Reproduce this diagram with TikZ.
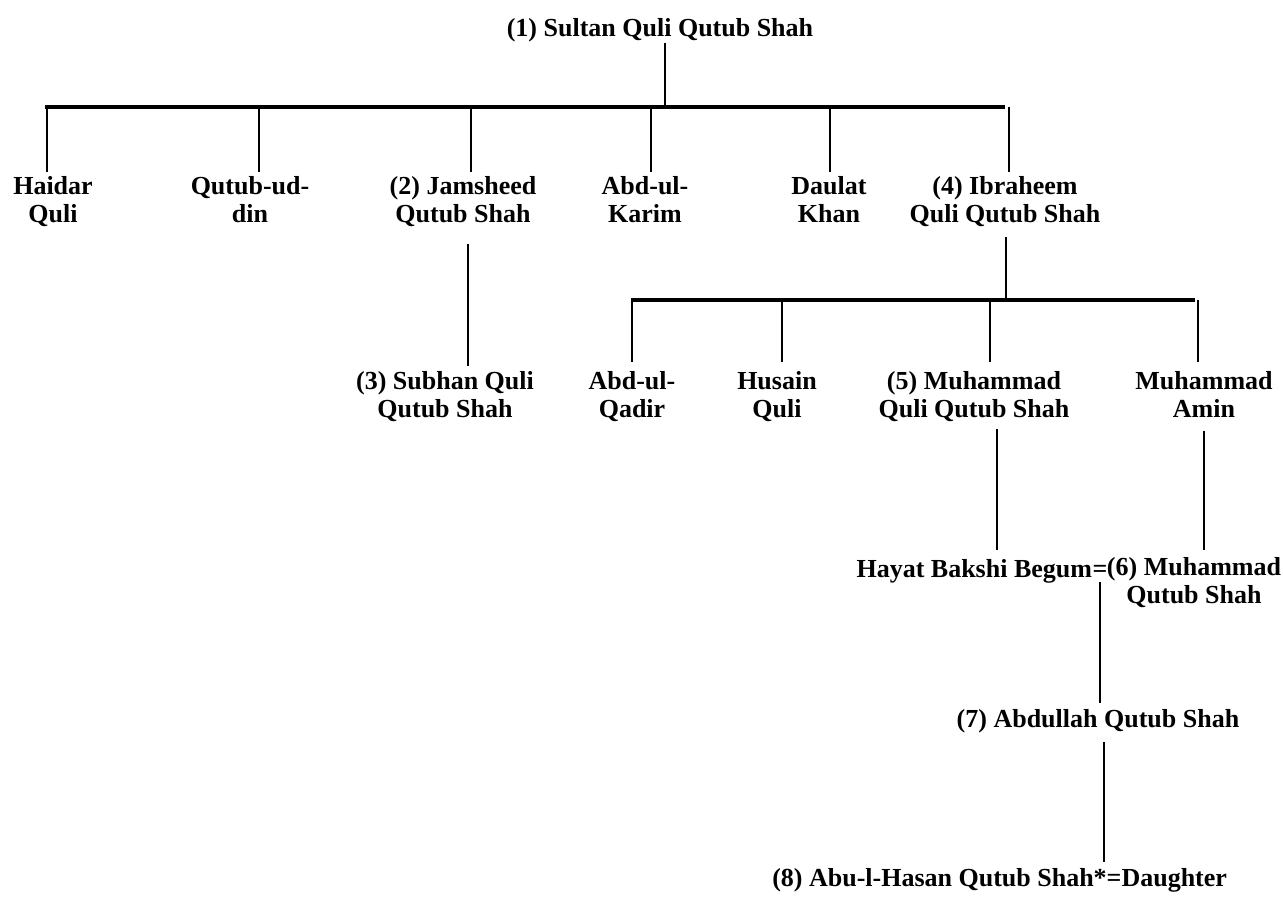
\documentclass[tikz,border=0pt]{standalone}
\usepackage{fontspec}
\setmainfont{Liberation Serif}
\begin{document}
\begin{tikzpicture}[x=1pt,y=-1pt,
  lbl/.style={font=\bfseries\fontsize{26}{28}\selectfont, align=center,
    inner sep=0pt, outer sep=0pt, anchor=north,
    execute at begin node={\rule{0pt}{19.5pt}}},
  tline/.style={line width=2.2pt},
  barline/.style={line width=4.5pt}]
\fill[white] (0,0) rectangle (1283,897);
\useasboundingbox (0,0) rectangle (1283,897);

% ---- labels ----
\node[lbl] (q1) at (660,16.5) {(1) Sultan Quli Qutub Shah};

\node[lbl] (haidar)   at (53,176.5)   {Haidar\\Quli};
\node[lbl] (qutubud)  at (250,176.5)  {Qutub-ud-\\din};
\node[lbl] (jamsheed) at (463,176.5)  {(2) Jamsheed\\Qutub Shah};
\node[lbl] (karim)    at (645,176.5)  {Abd-ul-\\Karim};
\node[lbl] (daulat)   at (829,176.5)  {Daulat\\Khan};
\node[lbl] (ibraheem) at (1005,176.5) {(4) Ibraheem\\Quli Qutub Shah};

\node[lbl] (subhan) at (445,371.5)  {(3) Subhan Quli\\Qutub Shah};
\node[lbl] (qadir)  at (632,371.5)  {Abd-ul-\\Qadir};
\node[lbl] (husain) at (777,371.5)  {Husain\\Quli};
\node[lbl] (muh5)   at (974,371.5)  {(5) Muhammad\\Quli Qutub Shah};
\node[lbl] (amin)   at (1204,371.5) {Muhammad\\Amin};

\node[lbl, anchor=north east] (hayat) at (1092,557.5) {Hayat Bakshi Begum};
\node[lbl] (eq6)  at (1100,557.5) {=};
\node[lbl] (muh6) at (1194,557.5) {(6) Muhammad\\Qutub Shah};

\node[lbl] (abdullah) at (1098,707.5) {(7) Abdullah Qutub Shah};

\node[lbl, anchor=north east] (abul) at (1227,866.5) {(8) Abu-l-Hasan Qutub Shah*=Daughter};

% ---- junction coordinates ----
\coordinate (j1) at (665,107);
\coordinate (b1L) at (45,107);
\coordinate (b1R) at (1005,107);
\coordinate (d1) at (47,107);
\coordinate (d2) at (259,107);
\coordinate (d3) at (471,107);
\coordinate (d4) at (651,107);
\coordinate (d5) at (830,107);
\coordinate (d6) at (1009,107);
\coordinate (v2) at (468,0);
\coordinate (j2) at (1006,300);
\coordinate (b2L) at (631,300);
\coordinate (b2R) at (1195,300);
\coordinate (e1) at (632,300);
\coordinate (e2) at (782,300);
\coordinate (e3) at (990,300);
\coordinate (e4) at (1198,300);
\coordinate (v5) at (997,0);
\coordinate (va) at (1204,0);
\coordinate (v6) at (1100,0);
\coordinate (v7) at (1104,0);

% ---- connectors ----
\draw[tline, shorten <=1.5pt] (q1.south -| j1) -- (j1);
\draw[barline] (b1L) -- (b1R);
\foreach \d/\n in {d1/haidar, d2/qutubud, d3/jamsheed, d4/karim, d5/daulat, d6/ibraheem}
  \draw[tline, shorten >=4.5pt] (\d) -- (\d |- \n.north);

\draw[tline, shorten <=17pt, shorten >=5.5pt] (jamsheed.south -| v2) -- (subhan.north -| v2);

\draw[tline, shorten <=10.5pt] (ibraheem.south -| j2) -- (j2);
\draw[barline] (b2L) -- (b2R);
\foreach \e/\n in {e1/qadir, e2/husain, e3/muh5, e4/amin}
  \draw[tline, shorten >=9.5pt] (\e) -- (\e |- \n.north);

\draw[tline, shorten <=7.5pt, shorten >=7.5pt] (muh5.south -| v5) -- (hayat.north -| v5);
\draw[tline, shorten <=13pt, shorten >=7.5pt] (amin.south -| va) -- (muh6.north -| va);
\draw[tline, shorten <=5pt, shorten >=4.5pt] (eq6.south -| v6) -- (abdullah.north -| v6);
\draw[tline, shorten <=9.5pt, shorten >=4.5pt] (abdullah.south -| v7) -- (abul.north -| v7);
\end{tikzpicture}
\end{document}
